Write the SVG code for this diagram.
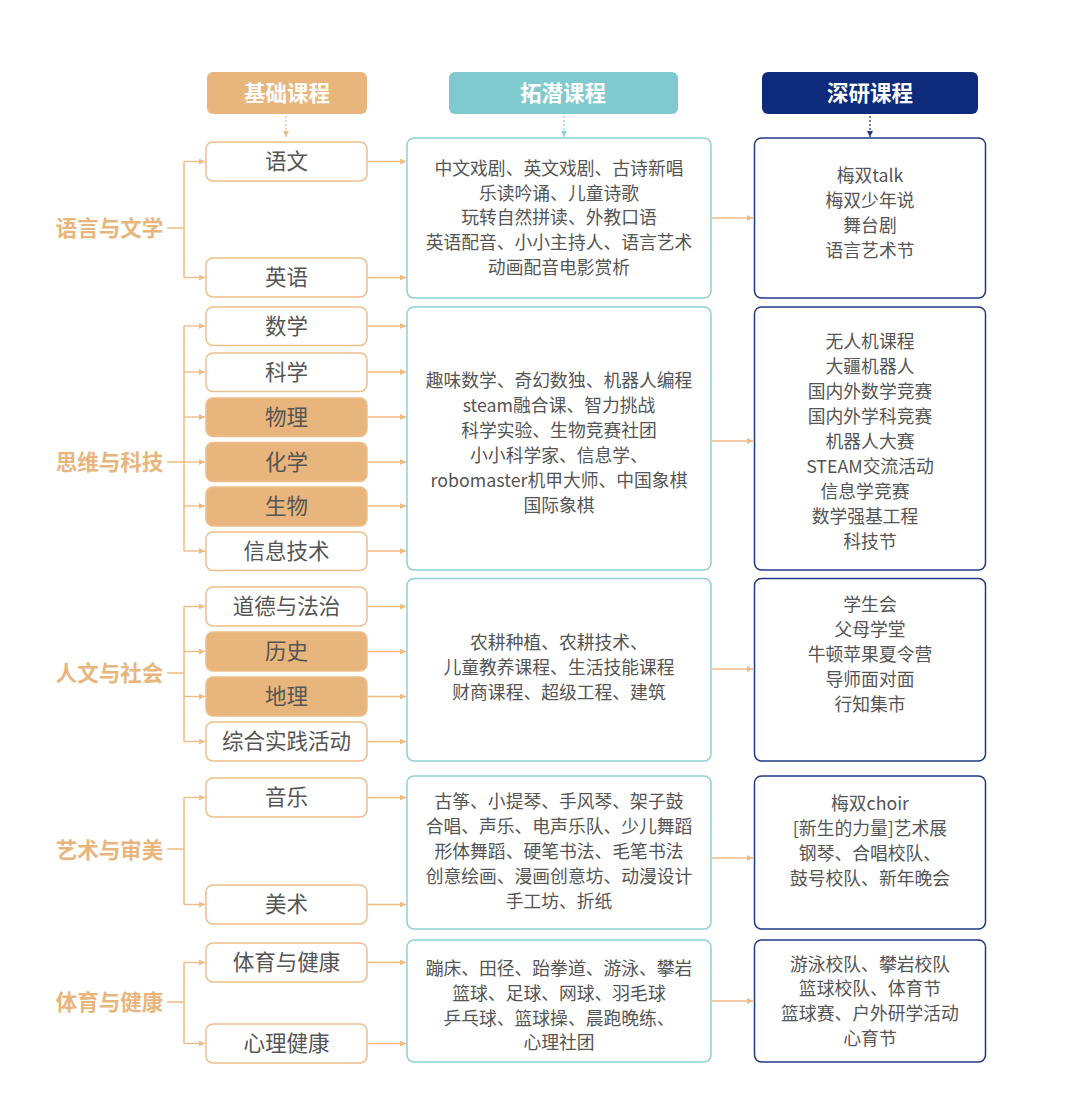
<svg xmlns="http://www.w3.org/2000/svg" width="1080" height="1109" viewBox="0 0 1080 1109">
<style>
text{font-family:"Noto Sans CJK SC","Noto Sans",sans-serif;text-anchor:middle}
.hd{font-size:21.5px;font-weight:bold;fill:#fff}
.cat{font-size:21.5px;font-weight:bold;fill:#E8B57C}
.sub{font-size:21.5px;fill:#555}
.mid{font-size:17.8px;fill:#555}
.bw{fill:#fff;stroke:#EDBE8A;stroke-width:1.5}
.bo{fill:#E8B57C;stroke:#EDBE8A;stroke-width:1.5}
.bt{fill:#fff;stroke:#8ED0D5;stroke-width:1.5}
.bn{fill:#fff;stroke:#1F3A87;stroke-width:1.5}
.ln{fill:none;stroke:#F0BA83;stroke-width:1.5}
.ar{fill:none;stroke:#F0BA83;stroke-width:1.3;marker-end:url(#ah)}
</style>
<defs>
<marker id="ah" viewBox="0 0 8 8" refX="8" refY="4" markerWidth="6" markerHeight="6" markerUnits="userSpaceOnUse" orient="auto"><path d="M0,0L8,4L0,8z" fill="#F0BA83"/></marker>
<marker id="ahT" viewBox="0 0 8 8" refX="8" refY="4" markerWidth="6" markerHeight="6" markerUnits="userSpaceOnUse" orient="auto"><path d="M0,0L8,4L0,8z" fill="#8ED0D5"/></marker>
<marker id="ahN" viewBox="0 0 8 8" refX="8" refY="4" markerWidth="6" markerHeight="6" markerUnits="userSpaceOnUse" orient="auto"><path d="M0,0L8,4L0,8z" fill="#1F3A87"/></marker>
</defs>
<rect width="1080" height="1109" fill="#fff"/>

<g id="headers">
<g id="h1"><rect x="207" y="72" width="160" height="42" rx="6" fill="#E8B57C"/><text class="hd" x="287" y="100.5">基础课程</text></g>
<g id="h2"><rect x="449" y="72" width="229" height="42" rx="6" fill="#80C9CE"/><text class="hd" x="563" y="100.5">拓潜课程</text></g>
<g id="h3"><rect x="762" y="72" width="216" height="42" rx="6" fill="#0D2B7A"/><text class="hd" x="870" y="100.5">深研课程</text></g>
</g>

<g id="connectors">
<path d="M286,116V137" fill="none" stroke="#F0BA83" stroke-width="1.3" stroke-dasharray="2,2" marker-end="url(#ah)"/>
<path d="M564,116V137" fill="none" stroke="#8ED0D5" stroke-width="1.3" stroke-dasharray="2,2" marker-end="url(#ahT)"/>
<path d="M870,116V137" fill="none" stroke="#1F3A87" stroke-width="1.3" stroke-dasharray="2,2" marker-end="url(#ahN)"/>

<path class="ln" d="M167,228H184M184,161.5V277.5"/>
<path class="ar" d="M184,161.5H205"/><path class="ar" d="M184,277.5H205"/>
<path class="ar" d="M368,161.5H406"/><path class="ar" d="M368,277.5H406"/>
<path class="ar" d="M712,218H753"/>

<path class="ln" d="M167,462H184M184,326V551"/>
<path class="ar" d="M184,326H205"/><path class="ar" d="M184,372H205"/><path class="ar" d="M184,417H205"/><path class="ar" d="M184,462H205"/><path class="ar" d="M184,506H205"/><path class="ar" d="M184,551H205"/>
<path class="ar" d="M368,326H406"/><path class="ar" d="M368,372H406"/><path class="ar" d="M368,417H406"/><path class="ar" d="M368,462H406"/><path class="ar" d="M368,506H406"/><path class="ar" d="M368,551H406"/>
<path class="ar" d="M712,441H753"/>

<path class="ln" d="M167,673H184M184,606.5V741.5"/>
<path class="ar" d="M184,606.5H205"/><path class="ar" d="M184,651.5H205"/><path class="ar" d="M184,696.5H205"/><path class="ar" d="M184,741.5H205"/>
<path class="ar" d="M368,606.5H406"/><path class="ar" d="M368,651.5H406"/><path class="ar" d="M368,696.5H406"/><path class="ar" d="M368,741.5H406"/>
<path class="ar" d="M712,669H753"/>

<path class="ln" d="M167,849H184M184,797.5V904.5"/>
<path class="ar" d="M184,797.5H205"/><path class="ar" d="M184,904.5H205"/>
<path class="ar" d="M368,797.5H406"/><path class="ar" d="M368,904.5H406"/>
<path class="ar" d="M712,858H753"/>

<path class="ln" d="M167,1002H184M184,962.5V1043.5"/>
<path class="ar" d="M184,962.5H205"/><path class="ar" d="M184,1043.5H205"/>
<path class="ar" d="M368,962.5H406"/><path class="ar" d="M368,1043.5H406"/>
<path class="ar" d="M712,1001H753"/>
</g>

<g id="categories">
<text id="c1" class="cat" x="109.5" y="236">语言与文学</text>
<text id="c2" class="cat" x="109.5" y="470">思维与科技</text>
<text id="c3" class="cat" x="109.5" y="681">人文与社会</text>
<text id="c4" class="cat" x="109.5" y="858">艺术与审美</text>
<text id="c5" class="cat" x="109.5" y="1010">体育与健康</text>
</g>

<g id="subjects">
<g id="s-yuwen"><rect class="bw" x="206" y="142" width="161" height="39" rx="7"/><text class="sub" x="286.5" y="169">语文</text></g>
<g id="s-yingyu"><rect class="bw" x="206" y="258" width="161" height="39" rx="7"/><text class="sub" x="286.5" y="285">英语</text></g>
<g id="s-shuxue"><rect class="bw" x="206" y="307" width="161" height="38.5" rx="7"/><text class="sub" x="286.5" y="333.5">数学</text></g>
<g id="s-kexue"><rect class="bw" x="206" y="353" width="161" height="38.5" rx="7"/><text class="sub" x="286.5" y="379.5">科学</text></g>
<g id="s-wuli"><rect class="bo" x="206" y="398" width="161" height="38.5" rx="7"/><text class="sub" x="286.5" y="424.5">物理</text></g>
<g id="s-huaxue"><rect class="bo" x="206" y="442.5" width="161" height="39" rx="7"/><text class="sub" x="286.5" y="469.5">化学</text></g>
<g id="s-shengwu"><rect class="bo" x="206" y="487" width="161" height="39" rx="7"/><text class="sub" x="286.5" y="514">生物</text></g>
<g id="s-xinxi"><rect class="bw" x="206" y="532" width="161" height="38.5" rx="7"/><text class="sub" x="286.5" y="558.5">信息技术</text></g>
<g id="s-daode"><rect class="bw" x="206" y="587" width="161" height="39" rx="7"/><text class="sub" x="286.5" y="614">道德与法治</text></g>
<g id="s-lishi"><rect class="bo" x="206" y="632" width="161" height="39" rx="7"/><text class="sub" x="286.5" y="659">历史</text></g>
<g id="s-dili"><rect class="bo" x="206" y="677" width="161" height="39" rx="7"/><text class="sub" x="286.5" y="704">地理</text></g>
<g id="s-zonghe"><rect class="bw" x="206" y="722" width="161" height="39" rx="7"/><text class="sub" x="286.5" y="749">综合实践活动</text></g>
<g id="s-yinyue"><rect class="bw" x="206" y="778" width="161" height="39" rx="7"/><text class="sub" x="286.5" y="805">音乐</text></g>
<g id="s-meishu"><rect class="bw" x="206" y="885" width="161" height="39" rx="7"/><text class="sub" x="286.5" y="912">美术</text></g>
<g id="s-tiyu"><rect class="bw" x="206" y="943" width="161" height="39" rx="7"/><text class="sub" x="286.5" y="970">体育与健康</text></g>
<g id="s-xinli"><rect class="bw" x="206" y="1024" width="161" height="39" rx="7"/><text class="sub" x="286.5" y="1051">心理健康</text></g>
</g>

<g id="expand">
<g id="m1"><rect class="bt" x="407" y="138" width="304" height="160" rx="7"/>
<text class="mid" x="559" y="174.5">中文戏剧、英文戏剧、古诗新唱</text>
<text class="mid" x="559" y="199.5">乐读吟诵、儿童诗歌</text>
<text class="mid" x="559" y="223.5">玩转自然拼读、外教口语</text>
<text class="mid" x="559" y="248.5">英语配音、小小主持人、语言艺术</text>
<text class="mid" x="559" y="273.5">动画配音电影赏析</text></g>
<g id="m2"><rect class="bt" x="407" y="307" width="304" height="263" rx="7"/>
<text class="mid" x="559" y="386.5">趣味数学、奇幻数独、机器人编程</text>
<text class="mid" x="559" y="411.5">steam融合课、智力挑战</text>
<text class="mid" x="559" y="436.5">科学实验、生物竞赛社团</text>
<text class="mid" x="559" y="461.5">小小科学家、信息学、</text>
<text class="mid" x="559" y="486.5">robomaster机甲大师、中国象棋</text>
<text class="mid" x="559" y="511.5">国际象棋</text></g>
<g id="m3"><rect class="bt" x="407" y="578.5" width="304" height="182.5" rx="7"/>
<text class="mid" x="559" y="648.5">农耕种植、农耕技术、</text>
<text class="mid" x="559" y="673.5">儿童教养课程、生活技能课程</text>
<text class="mid" x="559" y="698.5">财商课程、超级工程、建筑</text></g>
<g id="m4"><rect class="bt" x="407" y="776" width="304" height="153" rx="7"/>
<text class="mid" x="559" y="807.5">古筝、小提琴、手风琴、架子鼓</text>
<text class="mid" x="559" y="832.5">合唱、声乐、电声乐队、少儿舞蹈</text>
<text class="mid" x="559" y="857.5">形体舞蹈、硬笔书法、毛笔书法</text>
<text class="mid" x="559" y="882.5">创意绘画、漫画创意坊、动漫设计</text>
<text class="mid" x="559" y="907.5">手工坊、折纸</text></g>
<g id="m5"><rect class="bt" x="407" y="940" width="304" height="122" rx="7"/>
<text class="mid" x="559" y="974.5">蹦床、田径、跆拳道、游泳、攀岩</text>
<text class="mid" x="559" y="999.5">篮球、足球、网球、羽毛球</text>
<text class="mid" x="559" y="1024.5">乒乓球、篮球操、晨跑晚练、</text>
<text class="mid" x="559" y="1048.5">心理社团</text></g>
</g>

<g id="deep">
<g id="d1"><rect class="bn" x="754.5" y="138" width="231" height="160" rx="7"/>
<text class="mid" x="870" y="181.5">梅双talk</text>
<text class="mid" x="870" y="206.5">梅双少年说</text>
<text class="mid" x="870" y="231.5">舞台剧</text>
<text class="mid" x="870" y="256.5">语言艺术节</text></g>
<g id="d2"><rect class="bn" x="754.5" y="307" width="231" height="263" rx="7"/>
<text class="mid" x="870" y="347.5">无人机课程</text>
<text class="mid" x="870" y="372.5">大疆机器人</text>
<text class="mid" x="870" y="397.5">国内外数学竞赛</text>
<text class="mid" x="870" y="422.5">国内外学科竞赛</text>
<text class="mid" x="870" y="447.5">机器人大赛</text>
<text class="mid" x="870" y="472.5">STEAM交流活动</text>
<text class="mid" x="865" y="497.5">信息学竞赛</text>
<text class="mid" x="865" y="522.5">数学强基工程</text>
<text class="mid" x="870" y="547.5">科技节</text></g>
<g id="d3"><rect class="bn" x="754.5" y="578.5" width="231" height="182.5" rx="7"/>
<text class="mid" x="870" y="610.5">学生会</text>
<text class="mid" x="870" y="635.5">父母学堂</text>
<text class="mid" x="870" y="660.5">牛顿苹果夏令营</text>
<text class="mid" x="870" y="685.5">导师面对面</text>
<text class="mid" x="870" y="710.5">行知集市</text></g>
<g id="d4"><rect class="bn" x="754.5" y="776" width="231" height="153" rx="7"/>
<text class="mid" x="870" y="809.5">梅双choir</text>
<text class="mid" x="870" y="834.5">[新生的力量]艺术展</text>
<text class="mid" x="870" y="859.5">钢琴、合唱校队、</text>
<text class="mid" x="870" y="884.5">鼓号校队、新年晚会</text></g>
<g id="d5"><rect class="bn" x="754.5" y="940" width="231" height="122" rx="7"/>
<text class="mid" x="870" y="970.5">游泳校队、攀岩校队</text>
<text class="mid" x="870" y="994.5">篮球校队、体育节</text>
<text class="mid" x="870" y="1019.5">篮球赛、户外研学活动</text>
<text class="mid" x="870" y="1044.5">心育节</text></g>
</g>
</svg>
